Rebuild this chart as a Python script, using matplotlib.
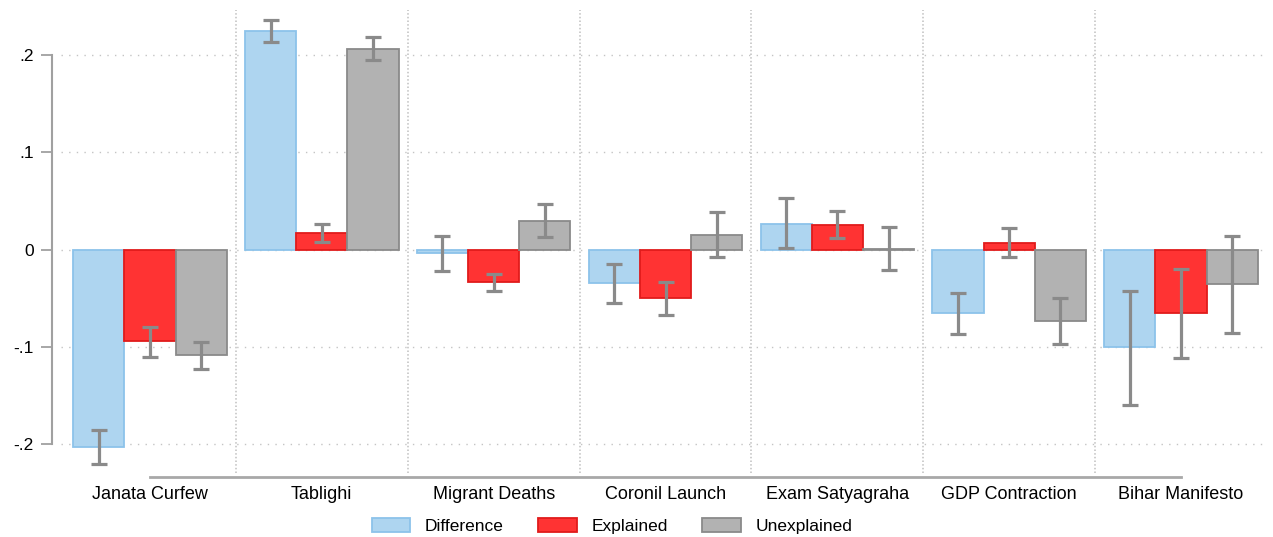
#!/usr/bin/env python3
"""Decomposition of event effects: difference, explained and unexplained parts."""

import numpy as np
import matplotlib.pyplot as plt

plt.rcParams['font.family'] = ['Liberation Sans', 'DejaVu Sans']

events = ['Janata Curfew', 'Tablighi', 'Migrant Deaths', 'Coronil Launch',
          'Exam Satyagraha', 'GDP Contraction', 'Bihar Manifesto']

# point estimates and 95% CI bounds
diff = [-0.2025, 0.2248, -0.0035, -0.0342, 0.0267, -0.0650, -0.1000]
diff_lo = [-0.2203, 0.2138, -0.0216, -0.0548, 0.0014, -0.0870, -0.1596]
diff_hi = [-0.1856, 0.2358, 0.0137, -0.0147, 0.0534, -0.0445, -0.0424]

expl = [-0.0938, 0.0168, -0.0332, -0.0493, 0.0254, 0.0069, -0.0648]
expl_lo = [-0.1100, 0.0079, -0.0428, -0.0671, 0.0117, -0.0078, -0.1110]
expl_hi = [-0.0791, 0.0267, -0.0247, -0.0329, 0.0401, 0.0226, -0.0196]

unexp = [-0.1082, 0.2066, 0.0291, 0.0147, 0.0010, -0.0730, -0.0350]
unexp_lo = [-0.1226, 0.1953, 0.0130, -0.0079, -0.0212, -0.0966, -0.0853]
unexp_hi = [-0.0945, 0.2189, 0.0470, 0.0383, 0.0236, -0.0496, 0.0137]

series = [
    ('Difference', diff, diff_lo, diff_hi, '#aed5f0', '#8cc3ea'),
    ('Explained', expl, expl_lo, expl_hi, '#ff3333', '#e01b1b'),
    ('Unexplained', unexp, unexp_lo, unexp_hi, '#b2b2b2', '#8a8a8a'),
]

fig = plt.figure(figsize=(12.73, 5.37), dpi=100)
ax = fig.add_axes([52 / 1273, 60.3 / 537, 1215 / 1273, 466.7 / 537])

x = np.arange(len(events))
width = 0.298
ymin, ymax = -0.2333, 0.2464

for k, (name, vals, lo, hi, fc, ec) in enumerate(series):
    pos = x + (k - 1) * width
    vals = np.array(vals)
    ax.bar(pos, vals, width, color=fc, edgecolor=ec, linewidth=1.3,
           label=name, zorder=3)
    err = np.vstack([vals - np.array(lo), np.array(hi) - vals])
    ax.errorbar(pos, vals, yerr=err, fmt='none', ecolor='#8a8a8a',
                elinewidth=2.3, capsize=5.5, capthick=2.3, zorder=4)

# dotted grid
for yv in [-0.2, -0.1, 0, 0.1, 0.2]:
    ax.plot([-0.52, 6.5], [yv, yv], color='#c4c4c4', lw=1,
            ls=(0, (1, 4.5)), zorder=1)
for xv in np.arange(0.5, 6.0, 1.0):
    ax.plot([xv, xv], [-0.2293, ymax], color='#c0c0c0', lw=1.1,
            ls=(0, (1, 1.4)), zorder=1)

ax.set_xlim(-0.57, 6.5)
ax.set_ylim(ymin, ymax)

ax.set_yticks([-0.2, -0.1, 0, 0.1, 0.2])
ax.set_yticklabels(['-.2', '-.1', '0', '.1', '.2'], fontsize=12.5)
ax.set_xticks(x)
ax.set_xticklabels(events, fontsize=13)
ax.tick_params(axis='x', length=0, pad=7)
ax.tick_params(axis='y', length=8, width=1.3, color='#a0a0a0', pad=5)

for side in ['top', 'right']:
    ax.spines[side].set_visible(False)
ax.spines['left'].set_bounds(-0.2, 0.2)
ax.spines['left'].set_color('#a0a0a0')
ax.spines['left'].set_linewidth(1.5)
ax.spines['bottom'].set_bounds(0, 6)
ax.spines['bottom'].set_color('#a8a8a8')
ax.spines['bottom'].set_linewidth(2)

fig.legend(loc='center', bbox_to_anchor=(612 / 1273, 1 - 526 / 537),
           ncol=3, frameon=False, fontsize=12.5, handlelength=2.2,
           handleheight=0.85, handletextpad=0.85, columnspacing=2.0)

fig.savefig('out.png', dpi=100)
plt.close(fig)
